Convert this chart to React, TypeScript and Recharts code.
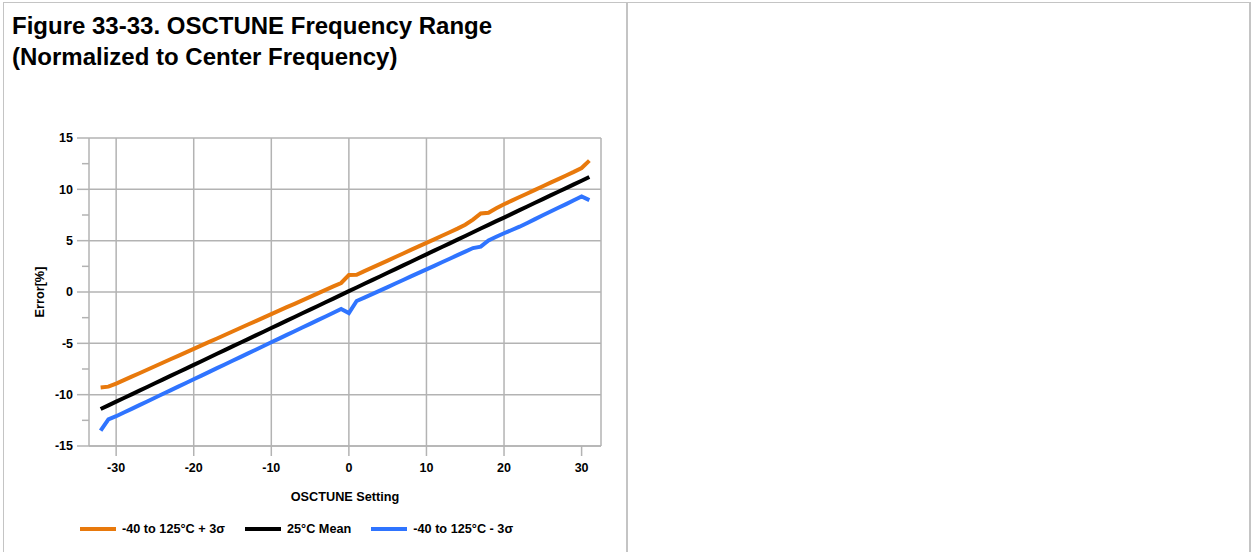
import React from "react";
import {
  LineChart,
  Line,
  XAxis,
  YAxis,
  CartesianGrid,
  Legend,
} from "recharts";

// OSCTUNE setting (x)
const settings = [
  -32, -31, -30, -29, -28, -27, -26, -25, -24, -23, -22, -21, -20, -19, -18, -17,
  -16, -15, -14, -13, -12, -11, -10, -9, -8, -7, -6, -5, -4, -3, -2, -1,
  0, 1, 2, 3, 4, 5, 6, 7, 8, 9, 10, 11, 12, 13, 14, 15,
  16, 17, 18, 19, 20, 21, 22, 23, 24, 25, 26, 27, 28, 29, 30, 31,
];

// -40 to 125°C + 3σ
const plus3Sigma = [
  -9.3, -9.22, -8.92, -8.58, -8.24, -7.91, -7.57, -7.23, -6.89, -6.55, -6.22, -5.88, -5.54, -5.2, -4.86, -4.53,
  -4.19, -3.85, -3.51, -3.17, -2.84, -2.5, -2.16, -1.82, -1.48, -1.15, -0.81, -0.47, -0.13, 0.21, 0.55, 0.88,
  1.65, 1.68, 2.03, 2.37, 2.72, 3.06, 3.41, 3.75, 4.1, 4.44, 4.79, 5.13, 5.48, 5.82, 6.17, 6.55,
  7.05, 7.65, 7.72, 8.15, 8.55, 8.9, 9.25, 9.6, 9.95, 10.3, 10.65, 11.0, 11.35, 11.7, 12.08, 12.8,
];

// 25°C Mean
const mean25 = [
  -11.4, -11.04, -10.68, -10.33, -9.97, -9.61, -9.25, -8.89, -8.53, -8.17, -7.81, -7.46, -7.1, -6.74, -6.38, -6.02,
  -5.66, -5.3, -4.94, -4.59, -4.23, -3.87, -3.51, -3.15, -2.79, -2.43, -2.07, -1.72, -1.36, -1.0, -0.64, -0.28,
  0.08, 0.44, 0.8, 1.16, 1.51, 1.87, 2.23, 2.59, 2.95, 3.31, 3.67, 4.03, 4.38, 4.74, 5.1, 5.46,
  5.82, 6.18, 6.54, 6.9, 7.25, 7.61, 7.97, 8.33, 8.69, 9.05, 9.41, 9.77, 10.12, 10.48, 10.84, 11.2,
];

// -40 to 125°C - 3σ
const minus3Sigma = [
  -13.5, -12.4, -12.1, -11.74, -11.38, -11.02, -10.66, -10.3, -9.94, -9.58, -9.22, -8.86, -8.5, -8.14, -7.78, -7.42,
  -7.06, -6.7, -6.34, -5.98, -5.62, -5.26, -4.9, -4.54, -4.18, -3.82, -3.46, -3.1, -2.74, -2.38, -2.02, -1.65,
  -2.05, -0.88, -0.55, -0.21, 0.14, 0.48, 0.83, 1.17, 1.52, 1.86, 2.21, 2.55, 2.9, 3.24, 3.59, 3.93,
  4.28, 4.42, 5.02, 5.38, 5.72, 6.04, 6.36, 6.72, 7.1, 7.47, 7.84, 8.2, 8.56, 8.93, 9.3, 8.95,
];

const seriesNames = ["-40 to 125°C + 3σ", "25°C Mean", "-40 to 125°C - 3σ"];
const xTicks = [-30, -20, -10, 0, 10, 20, 30];
const yMajor = [-15, -10, -5, 0, 5, 10, 15];
const yTicks = [-15, -12.5, -10, -7.5, -5, -2.5, 0, 2.5, 5, 7.5, 10, 12.5, 15];

const data = settings.map((s, i) => ({
  setting: s,
  plus: plus3Sigma[i],
  mean: mean25[i],
  minus: minus3Sigma[i],
}));

const FONT = "'Liberation Sans', Arial, sans-serif";
const GRID = "#b3b3b3";
const ORANGE = "#e8790c";
const BLUE = "#2f74ff";

const Y_TICK_SIZE = 12;
const Y_TICK_MARGIN = 4;

// y ticks: long tick + label on the majors, short tick only on the minors
function YTick(props: any) {
  const { x, y, payload } = props;
  const axisX = x + Y_TICK_MARGIN + Y_TICK_SIZE;
  const isMajor = yMajor.includes(payload.value);
  return (
    <g>
      <line
        x1={axisX - (isMajor ? Y_TICK_SIZE : 7)}
        x2={axisX}
        y1={y}
        y2={y}
        stroke={GRID}
        strokeWidth={1.5}
      />
      {isMajor && (
        <text
          x={x}
          y={y}
          dy="0.355em"
          textAnchor="end"
          fontSize={12.5}
          fontWeight="bold"
          fontFamily={FONT}
          fill="#000"
        >
          {payload.value}
        </text>
      )}
    </g>
  );
}

function YLabel(props: any) {
  const { viewBox } = props;
  const cy = viewBox.y + viewBox.height / 2;
  const cx = 39;
  return (
    <text
      x={cx}
      y={cy}
      dy="0.355em"
      transform={`rotate(-90, ${cx}, ${cy})`}
      textAnchor="middle"
      fontSize={12.7}
      fontWeight="bold"
      fontFamily={FONT}
      fill="#000"
    >
      Error[%]
    </text>
  );
}

function LegendContent(props: any) {
  const items = [...(props.payload || [])].sort(
    (a: any, b: any) => seriesNames.indexOf(a.value) - seriesNames.indexOf(b.value)
  );
  return (
    <div style={{ display: "flex", alignItems: "center" }}>
      {items.map((entry: any) => (
        <div
          key={entry.value}
          style={{ display: "flex", alignItems: "center", marginRight: 20 }}
        >
          <svg width={36} height={8}>
            <line x1={0} x2={36} y1={4} y2={4} stroke={entry.color} strokeWidth={4} />
          </svg>
          <span
            style={{
              marginLeft: 6,
              fontSize: 12.7,
              fontWeight: "bold",
              fontFamily: FONT,
              color: "#000",
              whiteSpace: "nowrap",
            }}
          >
            {entry.value}
          </span>
        </div>
      ))}
    </div>
  );
}

export default function App() {
  return (
    <div style={{ position: "relative", width: 1251, height: 552, background: "#fff", overflow: "hidden" }}>
      <style>{`body { margin: 0; }`}</style>

      {/* table borders */}
      <div style={{ position: "absolute", left: 3, top: 2, width: 1247, height: 1, background: "#c4c4c4" }} />
      <div style={{ position: "absolute", left: 3, top: 2, width: 1, height: 550, background: "#c4c4c4" }} />
      <div style={{ position: "absolute", left: 626, top: 2, width: 2, height: 550, background: "#c4c4c4" }} />
      <div style={{ position: "absolute", left: 1249, top: 2, width: 2, height: 550, background: "#c4c4c4" }} />

      <div
        style={{
          position: "absolute",
          left: 12,
          top: 10,
          fontFamily: FONT,
          fontSize: 24,
          fontWeight: "bold",
          lineHeight: "31px",
          color: "#000",
        }}
      >
        Figure 33-33. OSCTUNE Frequency Range
        <br />
        (Normalized to Center Frequency)
      </div>

      <div style={{ position: "absolute", left: 0, top: 0 }}>
        <LineChart
          width={627}
          height={552}
          data={data}
          margin={{ top: 138, right: 26, bottom: 76, left: 29 }}
        >
          <CartesianGrid
            stroke={GRID}
            strokeWidth={1.5}
            horizontalValues={yMajor}
            verticalValues={[-33.5, ...xTicks, 32.5]}
          />
          <XAxis
            dataKey="setting"
            type="number"
            domain={[-33.5, 32.5]}
            ticks={xTicks}
            allowDataOverflow
            height={30}
            tickSize={10}
            tickMargin={7}
            axisLine={{ stroke: GRID, strokeWidth: 1.5 }}
            tickLine={{ stroke: GRID, strokeWidth: 1.5 }}
            tick={{ fontSize: 12.5, fontWeight: "bold", fontFamily: FONT, fill: "#000" }}
            label={{
              value: "OSCTUNE Setting",
              position: "bottom",
              offset: 16,
              fontSize: 12.7,
              fontWeight: "bold",
              fontFamily: FONT,
              fill: "#000",
            }}
          />
          <YAxis
            type="number"
            domain={[-15, 15]}
            ticks={yTicks}
            interval={0}
            width={60}
            tickSize={Y_TICK_SIZE}
            tickMargin={Y_TICK_MARGIN}
            tickLine={false}
            axisLine={{ stroke: GRID, strokeWidth: 1.5 }}
            tick={<YTick />}
            label={{ content: <YLabel /> }}
          />
          <Legend
            layout="horizontal"
            verticalAlign="middle"
            align="center"
            wrapperStyle={{ left: 80, top: 522, width: 540 }}
            content={<LegendContent />}
          />
          <Line
            dataKey="plus"
            name={seriesNames[0]}
            stroke={ORANGE}
            strokeWidth={4}
            dot={false}
            isAnimationActive={false}
          />
          <Line
            dataKey="mean"
            name={seriesNames[1]}
            stroke="#000"
            strokeWidth={4}
            dot={false}
            isAnimationActive={false}
          />
          <Line
            dataKey="minus"
            name={seriesNames[2]}
            stroke={BLUE}
            strokeWidth={4}
            dot={false}
            isAnimationActive={false}
          />
        </LineChart>
      </div>
    </div>
  );
}
